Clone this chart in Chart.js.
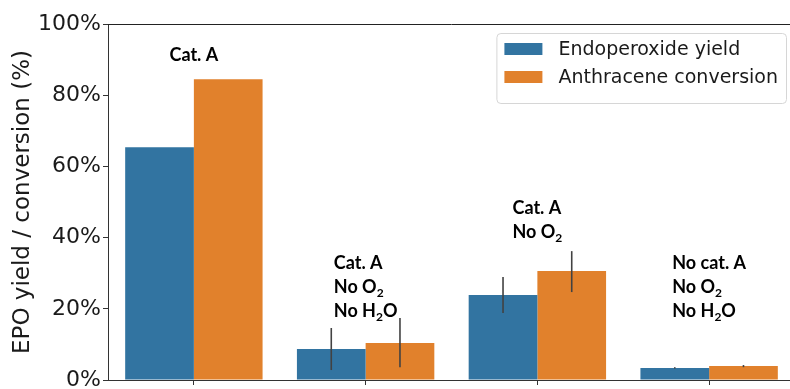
<!DOCTYPE html>
<html>
<head>
<meta charset="utf-8">
<script src="https://cdn.jsdelivr.net/npm/chart.js@4.4.1/dist/chart.umd.min.js"></script>
<style>
  html, body { margin: 0; padding: 0; overflow: hidden; background: #fff; }
  #wrap { position: relative; width: 800px; height: 400px; }
</style>
</head>
<body>
<div id="wrap"><canvas id="chart"></canvas></div>
<script>
const categories = ["Cat. A", "Cat. A, No O2, No H2O", "Cat. A, No O2", "No cat. A, No O2, No H2O"];
const yieldValues = [65.4, 8.7, 23.9, 3.4];
const conversionValues = [84.5, 10.4, 30.6, 3.9];
const yieldErrLow = [null, 2.8, 18.8, 3.2];
const yieldErrHigh = [null, 14.6, 28.9, 3.6];
const convErrLow = [null, 3.6, 24.7, 3.6];
const convErrHigh = [null, 17.4, 36.2, 4.2];
const yTicks = [0, 20, 40, 60, 80, 100];
const noteLines = [["Cat. A"], ["Cat. A", "No O_2", "No H_2O"], ["Cat. A", "No O_2"], ["No cat. A", "No O_2", "No H_2O"]];
const noteBaseY = [89.6, 31.2, 46.6, 31.2];

const spineColor = "#333333";

// error bars, drawn on the bar centres
const errorBars = {
  id: "errorBars",
  afterDatasetsDraw(chart) {
    const ctx = chart.ctx;
    const y = chart.scales.y;
    const errs = [[yieldErrLow, yieldErrHigh], [convErrLow, convErrHigh]];
    ctx.save();
    ctx.strokeStyle = "#424242";
    ctx.lineWidth = 1.6;
    chart.data.datasets.forEach((ds, i) => {
      const meta = chart.getDatasetMeta(i);
      meta.data.forEach((bar, j) => {
        const lo = errs[i][0][j];
        const hi = errs[i][1][j];
        if (lo == null) return;
        ctx.beginPath();
        ctx.moveTo(bar.x, y.getPixelForValue(lo));
        ctx.lineTo(bar.x, y.getPixelForValue(hi));
        ctx.stroke();
      });
    });
    ctx.restore();
  }
};

// text blocks above groups, "_2" = subscript
const notes = {
  id: "notes",
  afterDatasetsDraw(chart) {
    const ctx = chart.ctx;
    const x = chart.scales.x;
    const y = chart.scales.y;
    const big = "bold 18px Lato";
    const small = "bold 12px Lato";
    const parts = (s) => s.split(/(_\d)/).filter(p => p !== "").map(p =>
      p[0] === "_" ? { t: p.slice(1), sub: true } : { t: p, sub: false });
    const width = (s) => parts(s).reduce((w, p) => {
      ctx.font = p.sub ? small : big;
      return w + ctx.measureText(p.t).width;
    }, 0);
    ctx.save();
    ctx.fillStyle = "#000";
    ctx.textBaseline = "alphabetic";
    ctx.textAlign = "left";
    noteLines.forEach((lines, j) => {
      const cx = x.getPixelForValue(j);
      const maxW = Math.max(...lines.map(width));
      const left = cx - maxW / 2;
      const base = y.getPixelForValue(noteBaseY[j]);
      lines.forEach((line, k) => {
        let px = left;
        const py = base + k * 24;
        parts(line).forEach(p => {
          ctx.font = p.sub ? small : big;
          ctx.fillText(p.t, px, p.sub ? py + 4 : py);
          px += ctx.measureText(p.t).width;
        });
      });
    });
    ctx.restore();
  }
};

// top spine + framed legend in the upper right
const frame = {
  id: "frame",
  afterDraw(chart) {
    const ctx = chart.ctx;
    const a = chart.chartArea;
    ctx.save();
    ctx.strokeStyle = "#222";
    ctx.lineWidth = 1;
    ctx.beginPath();
    ctx.moveTo(a.left, a.top + 0.5);
    ctx.lineTo(a.right, a.top + 0.5);
    ctx.stroke();

    ctx.font = "19px 'DejaVu Sans'";
    const textW = Math.max(...chart.data.datasets.map(d => ctx.measureText(d.label).width));
    const w = 8 + 38 + 16 + textW + 8;
    const h = 70;
    const right = a.right - 9;
    const left = right - w;
    const top = a.top + 9;
    ctx.fillStyle = "rgba(255,255,255,0.85)";
    ctx.strokeStyle = "#d6d6d6";
    ctx.beginPath();
    ctx.roundRect(left + 0.5, top + 0.5, w, h, 4);
    ctx.fill();
    ctx.stroke();
    chart.data.datasets.forEach((d, i) => {
      const cy = top + 16 + i * 28;
      ctx.fillStyle = d.backgroundColor;
      ctx.fillRect(left + 8, cy - 6, 38, 12);
      ctx.fillStyle = "#1a1a1a";
      ctx.textBaseline = "middle";
      ctx.fillText(d.label, left + 8 + 38 + 16, cy + 1);
    });
    ctx.restore();
  }
};

new Chart("chart", {
  type: "bar",
  data: {
    labels: categories,
    datasets: [
      { label: "Endoperoxide yield", data: yieldValues, backgroundColor: "#3274a1" },
      { label: "Anthracene conversion", data: conversionValues, backgroundColor: "#e1812c" }
    ]
  },
  options: {
    responsive: true,
    maintainAspectRatio: false,
    animation: false,
    datasets: { bar: { categoryPercentage: 0.8, barPercentage: 1.0 } },
    layout: { padding: { top: 24, right: 5, bottom: 0, left: 0 } },
    scales: {
      x: {
        afterFit: (s) => { s.height = 20; },
        ticks: { display: false },
        grid: { display: true, drawOnChartArea: false, drawTicks: true, tickLength: 5, offset: false, color: spineColor },
        border: { display: true, color: spineColor, width: 1 }
      },
      y: {
        min: 0,
        max: 100,
        afterFit: (s) => { s.width = 108; },
        afterBuildTicks: (s) => { s.ticks = yTicks.map(v => ({ value: v })); },
        ticks: {
          callback: (v) => v + "%",
          color: "#1a1a1a",
          padding: 2,
          font: { family: "DejaVu Sans", size: 22 }
        },
        grid: { display: true, drawOnChartArea: false, drawTicks: true, tickLength: 5, color: spineColor },
        border: { display: true, color: spineColor, width: 1 },
        title: {
          display: true,
          text: "EPO yield / conversion (%)",
          color: "#1a1a1a",
          padding: { top: 9, bottom: 0 },
          font: { family: "DejaVu Sans", size: 23 }
        }
      }
    },
    plugins: {
      legend: { display: false },
      tooltip: { enabled: false }
    }
  },
  plugins: [errorBars, notes, frame]
});
</script>
</body>
</html>
